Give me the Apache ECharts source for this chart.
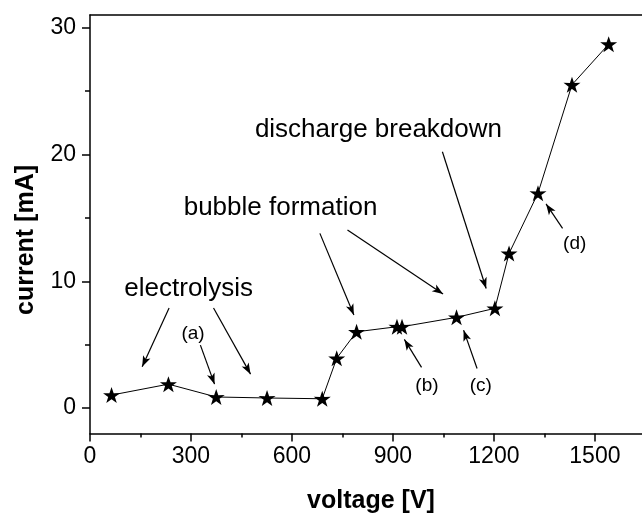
<!DOCTYPE html>
<html>
<head>
<meta charset="utf-8">
<script src="https://cdn.jsdelivr.net/npm/echarts@6/dist/echarts.min.js"></script>
<style>
  html, body { margin: 0; padding: 0; background: #fff; }
  #chart { width: 642px; height: 513px; }
</style>
</head>
<body>
<div id="chart"></div>
<script>
// Measured I–V curve
const voltage = [64, 233, 375, 526, 690, 733, 792, 912, 927, 1089, 1203, 1245, 1331, 1432, 1541];
const current = [1.03, 1.89, 0.88, 0.80, 0.74, 3.93, 6.02, 6.42, 6.42, 7.16, 7.87, 12.2, 16.95, 25.5, 28.7];

// Axis ticks
const xTicks = [0, 300, 600, 900, 1200, 1500];
const xMinorTicks = [150, 450, 750, 1050, 1350];
const yTicks = [0, 10, 20, 30];
const yMinorTicks = [5, 15, 25];

// Regime labels (voltage, current)
const phaseLabels = ['electrolysis', 'bubble formation', 'discharge breakdown'];
const phaseX = [293, 566, 857];
const phaseY = [9.44, 15.76, 21.93];

// Point markers (voltage, current)
const markerLabels = ['(a)', '(b)', '(c)', '(d)'];
const markerX = [306, 1001, 1161, 1440];
const markerY = [5.89, 1.74, 1.74, 13.0];

// Arrows: tail -> head (voltage, current)
const arrowTailX = [235, 367, 328, 683, 765, 1047, 985, 1150, 1404];
const arrowTailY = [7.89, 7.89, 4.97, 13.78, 14.04, 20.22, 3.21, 3.13, 14.18];
const arrowHeadX = [155, 477, 370, 784, 1049, 1177, 934, 1110, 1355];
const arrowHeadY = [3.26, 2.68, 1.89, 7.34, 9.0, 9.43, 5.42, 6.15, 16.1];

const FONT = 'Liberation Sans, Arial, sans-serif';
const STAR = 'path://M50,0 L61.8,35.1 L97.6,34.5 L68.8,55.9 L79.4,90.5 L50,69.1 L20.6,90.5 L31.2,55.9 L2.4,34.5 L38.2,35.1 Z';

const X_MIN = 0, X_MAX = 1640, Y_MIN = -2, Y_MAX = 31;

const chart = echarts.init(document.getElementById('chart'), null, { renderer: 'canvas' });

const axisLineStyle = { color: '#000', width: 1.5 };
const plain = v => String(v);

const curve = voltage.map((v, i) => [v, current[i]]);
const arrows = arrowTailX.map((x, i) => [
  { coord: [x, arrowTailY[i]] },
  { coord: [arrowHeadX[i], arrowHeadY[i]] }
]);

// Free text placed at data coordinates
const notes = (labels, xs, ys, size) => labels.map((t, i) => ({
  name: t,
  coord: [xs[i], ys[i]],
  symbol: 'circle',
  symbolSize: 0,
  itemStyle: { color: '#000' },
  label: {
    show: true, position: 'inside', formatter: t,
    fontFamily: FONT, fontSize: size, color: '#000', opacity: 1
  }
}));

chart.setOption({
  animation: false,
  backgroundColor: '#fff',
  grid: { left: 90, right: -7, top: 15, bottom: 79.5, containLabel: false },
  xAxis: [
    {
      type: 'value', position: 'bottom', min: X_MIN, max: X_MAX,
      axisLine: { show: true, onZero: false, lineStyle: axisLineStyle },
      axisTick: { show: true, inside: false, length: 8, customValues: xTicks, lineStyle: { color: '#000', width: 1.5 } },
      axisLabel: { show: true, customValues: xTicks, formatter: plain, margin: 12, fontFamily: FONT, fontSize: 23, color: '#000' },
      splitLine: { show: false }
    },
    {
      // minor ticks
      type: 'value', position: 'bottom', min: X_MIN, max: X_MAX,
      axisLine: { show: false, onZero: false },
      axisTick: { show: true, inside: false, length: 4, customValues: xMinorTicks, lineStyle: { color: '#000', width: 1.5 } },
      axisLabel: { show: false },
      splitLine: { show: false }
    },
    {
      // top frame
      type: 'value', position: 'top', min: X_MIN, max: X_MAX,
      axisLine: { show: true, onZero: false, lineStyle: axisLineStyle },
      axisTick: { show: false }, axisLabel: { show: false }, splitLine: { show: false }
    }
  ],
  yAxis: [
    {
      type: 'value', position: 'left', min: Y_MIN, max: Y_MAX,
      axisLine: { show: true, onZero: false, lineStyle: axisLineStyle },
      axisTick: { show: true, inside: false, length: 8, customValues: yTicks, lineStyle: { color: '#000', width: 1.5 } },
      axisLabel: { show: true, customValues: yTicks, formatter: plain, margin: 14, fontFamily: FONT, fontSize: 23, color: '#000' },
      splitLine: { show: false }
    },
    {
      type: 'value', position: 'left', min: Y_MIN, max: Y_MAX,
      axisLine: { show: false, onZero: false },
      axisTick: { show: true, inside: false, length: 5, customValues: yMinorTicks, lineStyle: { color: '#000', width: 1.5 } },
      axisLabel: { show: false },
      splitLine: { show: false }
    }
  ],
  graphic: [
    {
      type: 'text', x: 371, y: 501,
      style: { text: 'voltage [V]', font: 'bold 25px ' + FONT, fill: '#000', align: 'center', verticalAlign: 'middle' }
    },
    {
      type: 'text', x: 26, y: 240, rotation: Math.PI / 2,
      style: { text: 'current [mA]', font: 'bold 25px ' + FONT, fill: '#000', align: 'center', verticalAlign: 'middle' }
    }
  ],
  series: [
    {
      type: 'line',
      data: curve,
      xAxisIndex: 0, yAxisIndex: 0,
      symbol: STAR,
      symbolSize: [17, 16],
      showAllSymbol: true,
      itemStyle: { color: '#000' },
      lineStyle: { color: '#000', width: 1 },
      z: 3,
      markLine: {
        silent: true,
        animation: false,
        symbol: ['none', 'arrow'],
        symbolSize: [6, 11],
        lineStyle: { color: '#000', width: 1.2, type: 'solid' },
        label: { show: false },
        emphasis: { disabled: true },
        data: arrows
      },
      markPoint: {
        silent: true,
        animation: false,
        emphasis: { disabled: true },
        data: notes(phaseLabels, phaseX, phaseY, 26).concat(notes(markerLabels, markerX, markerY, 19))
      }
    }
  ]
});
</script>
</body>
</html>
